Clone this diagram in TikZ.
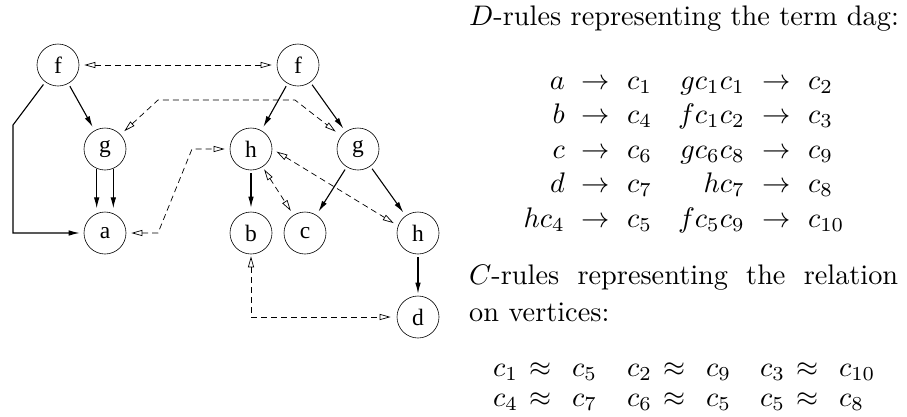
\RequirePackage{fix-cm}
\documentclass[tikz,border=0pt]{standalone}
\usepackage{fontspec}
\usepackage{graphicx}
\newfontfamily\nodefont{Liberation Serif}
\usetikzlibrary{arrows.meta}
\newcommand\bigt[1]{\scalebox{2.83}{#1}}
\begin{document}
\begin{tikzpicture}[x=1pt,y=-1pt,
  vert/.style={circle,draw,minimum size=42pt,inner sep=0pt,line width=0.6pt,
    font=\nodefont\fontsize{23.5}{26}\selectfont},
  edge/.style={line width=1.1pt,-{Latex[length=11pt,width=5.5pt]},shorten <=3pt,shorten >=4pt},
  rel/.style={line width=0.7pt,dash pattern=on 6pt off 4pt,
    {Triangle[open,length=11pt,width=6pt]}-{Triangle[open,length=11pt,width=6pt]},
    shorten <=5pt,shorten >=5pt},
  txt/.style={inner sep=0pt,font=\fontsize{10}{12}\selectfont}]
\useasboundingbox (0,0) rectangle (907,416);

% vertices
\node[vert] (f1) at (58,65) {f};
\node[vert] (f2) at (298,65) {f};
\node[vert] (g1) at (105,149) {g};
\node[vert] (h1) at (251,149) {h};
\node[vert] (g2) at (358,149) {g};
\node[vert] (a) at (105,233) {a};
\node[vert] (b) at (251,233) {b};
\node[vert] (c) at (305,233) {c};
\node[vert] (h2) at (418,233) {h};
\node[vert] (d) at (418,317) {d};

\coordinate (fa1) at (13,125);
\coordinate (fa2) at (13,233);
\coordinate (gg1) at (158,100);
\coordinate (gg2) at (295,100);
\coordinate (ah1) at (158,233);
\coordinate (ah2) at (192,149);
\coordinate (bd) at (251,317);

% solid edges
\draw[edge] (f1) -- (g1);
\draw[edge] (f1) -- (fa1) -- (fa2) -- (a);
\draw[edge,shorten <=0pt,shorten >=5pt] (g1.247) -- (a.113);
\draw[edge,shorten <=0pt,shorten >=5pt] (g1.293) -- (a.67);
\draw[edge] (f2) -- (h1);
\draw[edge] (f2) -- (g2);
\draw[edge] (h1) -- (b);
\draw[edge] (g2) -- (c);
\draw[edge] (g2) -- (h2);
\draw[edge,shorten >=2pt] (h2) -- (d);

% relation edges
\draw[rel] (f1) -- (f2);
\draw[rel,shorten >=7pt] (g1) -- (gg1) -- (gg2) -- (g2);
\draw[rel] (a) -- (ah1) -- (ah2) -- (h1);
\draw[rel,shorten <=3pt] (h1) -- (c);
\draw[rel] (h1.east) -- (h2.160);
\draw[rel,shorten <=2pt,shorten >=6pt] (b) -- (bd) -- (d);

% text
\node[txt,anchor=base west] (dhead) at (469,25) {\bigt{$D$-rules representing the term dag:}};
\foreach \y/\la/\ra/\lb/\rb [count=\i] in {89/a/c_1/gc_1c_1/c_2, 123.5/b/c_4/fc_1c_2/c_3,
   158/c/c_6/gc_6c_8/c_9, 192.5/d/c_7/hc_7/c_8, 227/hc_4/c_5/fc_5c_9/c_{10}} {
  \node[txt,anchor=base east] (dl\i) at (565,\y) {\bigt{$\la$}};
  \node[txt,anchor=base] (da\i) at (596,\y) {\bigt{$\rightarrow$}};
  \node[txt,anchor=base west] (dr\i) at (627,\y) {\bigt{$\ra$}};
  \node[txt,anchor=base east] (dL\i) at (745,\y) {\bigt{$\lb$}};
  \node[txt,anchor=base] (dA\i) at (777,\y) {\bigt{$\rightarrow$}};
  \node[txt,anchor=base west] (dR\i) at (808,\y) {\bigt{$\rb$}};
}
\node[txt,anchor=base west] (chead) at (469,284)
  {\bigt{\hbox to 151.6pt{$C$-rules\hfill representing\hfill the\hfill relation}}};
\node[txt,anchor=base west] (chead2) at (469,321) {\bigt{on vertices:}};
\foreach \y/\p/\q/\r/\s/\t/\u [count=\i] in {376/c_1/c_5/c_2/c_9/c_3/c_{10},
   406/c_4/c_7/c_6/c_5/c_5/c_8} {
  \node[txt,anchor=base west] (cl\i) at (493,\y) {\bigt{$\p$}};
  \node[txt,anchor=base] (ca\i) at (540,\y) {\bigt{$\approx$}};
  \node[txt,anchor=base west] (cr\i) at (572,\y) {\bigt{$\q$}};
  \node[txt,anchor=base west] (cL\i) at (627,\y) {\bigt{$\r$}};
  \node[txt,anchor=base] (cA\i) at (674,\y) {\bigt{$\approx$}};
  \node[txt,anchor=base west] (cR\i) at (706,\y) {\bigt{$\s$}};
  \node[txt,anchor=base west] (cm\i) at (760,\y) {\bigt{$\t$}};
  \node[txt,anchor=base] (cM\i) at (807,\y) {\bigt{$\approx$}};
  \node[txt,anchor=base west] (cN\i) at (839,\y) {\bigt{$\u$}};
}
\end{tikzpicture}
\end{document}
